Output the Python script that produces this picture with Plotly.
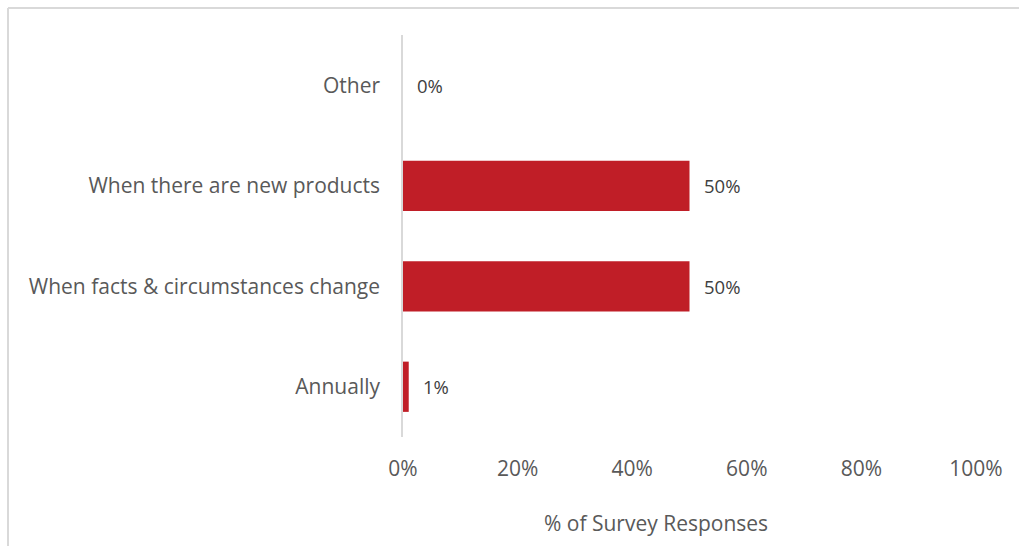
import plotly.graph_objects as go

categories = ["Annually", "When facts & circumstances change", "When there are new products", "Other"]
values = [1, 50, 50, 0]
x_ticks = [0, 20, 40, 60, 80, 100]
x_tick_labels = ["0%", "20%", "40%", "60%", "80%", "100%"]

W, H = 1019, 546
L, R, T, B = 403, 43, 35, 109
pw, ph = W - L - R, H - T - B


def px_x(p):
    return (p - L) / pw


def px_y(p):
    return (H - B - p) / ph


grey = "#595959"
font = "Open Sans"

fig = go.Figure(
    go.Bar(
        x=values,
        y=categories,
        orientation="h",
        marker=dict(color="#C01E27", line=dict(width=0)),
        hoverinfo="skip",
    )
)

# value labels next to each bar
for c, v in zip(categories, values):
    fig.add_annotation(
        x=v, y=c, text=f"{v}%", showarrow=False, xanchor="left", xshift=12,
        font=dict(family=font, size=18.5, color="#404040"),
    )

# axis title
fig.add_annotation(
    xref="paper", yref="paper", x=px_x(656), y=px_y(523),
    text="% of Survey Responses", showarrow=False, xanchor="center", yanchor="middle",
    font=dict(family=font, size=21, color=grey),
)

# outer frame (top and left edges)
border = dict(color="#D9D9D9", width=2)
fig.add_shape(type="line", xref="paper", yref="paper",
              x0=px_x(8), x1=px_x(W + 5), y0=px_y(8), y1=px_y(8), line=border)
fig.add_shape(type="line", xref="paper", yref="paper",
              x0=px_x(8), x1=px_x(8), y0=px_y(8), y1=px_y(H + 5), line=border)

fig.update_layout(
    width=W, height=H,
    margin=dict(l=L, r=R, t=T, b=B),
    paper_bgcolor="white", plot_bgcolor="white",
    bargap=0.5,
    showlegend=False,
    xaxis=dict(
        range=[0, 100], tickvals=x_ticks, ticktext=x_tick_labels,
        showgrid=False, zeroline=False, showline=False,
        ticks="", ticklabelstandoff=17,
        tickfont=dict(family=font, size=21, color=grey),
        fixedrange=True,
    ),
    yaxis=dict(
        categoryorder="array", categoryarray=categories,
        showgrid=False, zeroline=False,
        showline=True, linecolor="#D9D9D9", linewidth=1.5,
        ticks="", ticklabelstandoff=17,
        tickfont=dict(family=font, size=21, color=grey),
        fixedrange=True,
    ),
)

fig.write_html("out.html")
